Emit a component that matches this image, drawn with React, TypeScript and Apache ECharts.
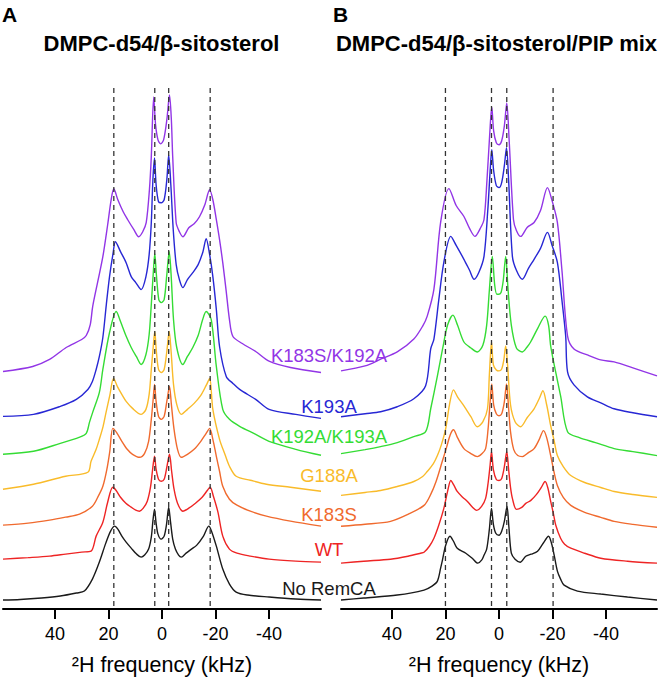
import React, { useEffect, useRef } from "react";
import * as echarts from "echarts";

// ---------- data (x: 2H frequency in kHz, y: stacked intensity, arbitrary units) ----------
const sampleNames = ["No RemCA", "WT", "K183S", "G188A", "K192A/K193A", "K193A", "K183S/K192A"];
const panelTitles = ["DMPC-d54/β-sitosterol", "DMPC-d54/β-sitosterol/PIP mix"];
const panelLetters = ["A", "B"];
const tickValues = [-40, -20, 0, 20, 40];
const axisTitle = "²H frequency (kHz)";
const dashedA = [18, 2.7, -2.5, -18];
const dashedB = [20, 2.8, -2.9, -20.2];

// Panel A spectra
const noRemcaA = [[59.4, 9], [53, 9.5], [45, 11], [38, 13], [32, 16], [29, 18], [26, 30], [23.4, 47], [21, 66], [19.2, 78], [17.7, 83], [16.5, 80], [15, 73], [13.4, 67], [11.5, 61], [9.5, 55], [7.8, 52], [6.5, 54], [5, 60], [4, 72], [3.4, 88], [2.8, 100], [2.2, 86], [1.5, 75], [0.3, 70], [-0.8, 73], [-1.7, 85], [-2.5, 102], [-3.2, 87], [-4, 70], [-5, 60], [-6.2, 54], [-7.2, 52], [-9, 56], [-11, 60], [-13, 64], [-15.5, 73], [-17.5, 83], [-18.5, 78], [-20.3, 63], [-22.7, 40], [-25.2, 25], [-27.7, 17], [-32, 14], [-40, 12], [-50, 10], [-59.4, 9]];
const wtA = [[59.4, 50], [50, 51.5], [42, 53], [36, 55], [30, 57], [26.5, 58], [24.6, 73], [22.1, 87], [20.3, 107], [18.4, 122], [17.2, 119], [15.5, 112], [13.5, 106], [11.5, 102], [9.8, 99], [8.4, 98], [7, 101], [5.5, 108], [4.3, 122], [3.5, 140], [2.8, 153], [2.2, 140], [1.3, 130], [0.3, 128], [-0.8, 130], [-1.8, 142], [-2.8, 155], [-3.6, 138], [-4.5, 120], [-5.8, 106], [-7.8, 98], [-10, 101], [-12.5, 106], [-15, 112], [-17, 119], [-18, 122], [-19.2, 113], [-20.9, 97], [-22.7, 73], [-25.2, 60], [-28, 56], [-33, 53], [-40, 50], [-50, 48], [-59.4, 47]];
const k183sA = [[59.4, 84], [50, 86], [42, 89], [36, 92], [30.8, 95], [26, 103], [24, 112], [22.1, 123], [20.6, 140], [19.5, 158], [18.4, 181], [17, 177], [15, 168], [13, 160], [11, 155], [8.4, 152], [6.5, 156], [5, 168], [4, 190], [3.3, 210], [2.8, 225], [2.2, 208], [1.3, 193], [0.3, 190], [-0.8, 193], [-1.8, 208], [-2.8, 223], [-3.5, 205], [-4.5, 180], [-5.8, 160], [-7.2, 152], [-9.5, 155], [-12, 160], [-14.5, 168], [-16.5, 176], [-17.8, 181], [-19, 170], [-20.3, 153], [-21.5, 138], [-22.7, 123], [-25.2, 110], [-28, 104], [-33, 98], [-39, 93], [-48, 88], [-59.4, 83]];
const g188aA = [[59.4, 120], [48, 125], [36, 133], [27.7, 137], [26.5, 148], [24.6, 160], [23.4, 170], [22, 183], [20.9, 197], [19.5, 214], [18.1, 231], [16.5, 222], [14.8, 214], [13.4, 208], [11, 201], [7.8, 195], [6, 200], [4.8, 215], [4, 240], [3.3, 262], [2.7, 278], [2.1, 258], [1.3, 240], [0.3, 237], [-0.8, 240], [-1.8, 258], [-2.7, 278], [-3.4, 258], [-4.3, 225], [-5.5, 205], [-7.2, 195], [-9.5, 200], [-12, 206], [-14.5, 214], [-16.5, 224], [-17.8, 231], [-19, 200], [-21.5, 170], [-23.5, 155], [-25.2, 143], [-27.7, 133], [-33, 129], [-39, 125], [-48, 122], [-59.4, 118]];
const k192aK193aA = [[59.4, 155], [48, 158], [38, 166], [31, 172], [28.3, 176], [27.1, 187], [25.9, 197], [23.4, 217], [22.1, 240], [19.6, 277], [17.1, 298], [15.5, 288], [13.5, 274], [11.5, 262], [9.6, 253], [7.8, 245], [6, 255], [4.8, 275], [4, 305], [3.3, 335], [2.7, 356], [2.1, 335], [1.2, 310], [0.3, 307], [-0.8, 310], [-1.8, 335], [-2.7, 358], [-3.4, 335], [-4.3, 290], [-5.5, 262], [-7.8, 245], [-9.5, 253], [-11.5, 262], [-13.5, 274], [-15.2, 290], [-16.5, 298], [-18.4, 290], [-20.3, 243], [-22.7, 200], [-25.2, 190], [-29, 183], [-35, 175], [-40, 168], [-50, 160], [-59.4, 154]];
const k193aA = [[59.4, 193], [48, 195], [38, 203], [32, 210], [27.7, 220], [26, 228], [24.6, 240], [23.4, 253], [22.1, 272], [20.8, 305], [19.6, 333], [18.3, 356], [17.4, 368], [15.5, 358], [13.4, 347], [11.5, 333], [9.8, 327], [7.8, 320], [6, 333], [4.8, 355], [4, 387], [3.4, 430], [2.8, 452], [2.2, 425], [1.3, 408], [0.3, 407], [-0.8, 410], [-1.8, 430], [-2.5, 455], [-3.3, 425], [-4.2, 380], [-5.3, 345], [-6.5, 330], [-7.8, 322], [-9.5, 330], [-11.5, 337], [-13.5, 345], [-15.3, 358], [-16.5, 371], [-17.8, 355], [-19, 333], [-20.3, 300], [-21.5, 263], [-24, 233], [-26.5, 226], [-29, 220], [-35, 210], [-40, 200], [-50, 195], [-59.4, 191]];
const k183sK192aA = [[59.4, 238], [48.3, 243], [42, 250], [35.8, 262], [30, 270], [28.3, 274], [26.8, 285], [25.9, 303], [24, 328], [22.1, 353], [20.3, 385], [19, 410], [18, 421], [16.5, 410], [14.5, 398], [12.8, 390], [10.5, 380], [8.7, 373], [7.2, 378], [5.9, 387], [4.7, 420], [4, 453], [3.1, 513], [2.4, 485], [1.5, 470], [0.5, 466], [-0.6, 470], [-1.8, 490], [-2.8, 515], [-3.5, 490], [-4, 453], [-5.3, 387], [-6.5, 378], [-7.8, 373], [-10, 382], [-12, 386], [-14, 393], [-16, 405], [-17.8, 420], [-19, 410], [-20.3, 390], [-21.5, 370], [-22.7, 347], [-24, 318], [-25.2, 290], [-26.5, 273], [-30, 266], [-35, 258], [-40.2, 248], [-48, 242], [-59.4, 237]];

// Panel B spectra
const noRemcaB = [[59, 9], [50.5, 11], [38, 14], [28, 19], [25, 23], [23, 28], [21.8, 41], [21.2, 48], [19.9, 64], [18.3, 73], [17, 68], [15.6, 61], [12.4, 56], [10, 51], [7.9, 46], [6.5, 49], [5.6, 54], [4.6, 60], [3.6, 80], [2.8, 101], [2.1, 85], [1.2, 76], [0, 74], [-1, 78], [-2, 88], [-3, 103], [-3.7, 82], [-4.6, 56], [-6, 50], [-7.9, 47], [-10, 53], [-12, 55], [-14.4, 58], [-16.5, 66], [-18.5, 73], [-19.6, 66], [-20.6, 54], [-21.8, 38], [-23, 30], [-24.3, 24], [-29.3, 18], [-38, 15], [-48, 12], [-59, 9]];
const wtB = [[59, 46], [50.5, 48], [40.5, 50], [34, 53], [29.3, 56], [28, 57], [26, 63], [24.3, 71], [22.5, 84], [20.6, 101], [19.2, 118], [18, 129], [16.8, 124], [15.6, 118], [13.5, 112], [11.8, 108], [9.8, 102], [8.3, 99], [6.5, 103], [5, 111], [4, 128], [3.3, 145], [2.8, 158], [2.1, 140], [1, 130], [0, 129], [-1, 131], [-2, 143], [-2.9, 158], [-3.6, 140], [-4.3, 122], [-5, 111], [-6.5, 100], [-8.5, 102], [-10, 106], [-11.9, 109], [-14, 115], [-15.8, 122], [-17.2, 128], [-18.2, 122], [-19.3, 108], [-20.3, 96], [-21.2, 84], [-23, 71], [-24.5, 65], [-26.8, 61], [-32, 56], [-38, 51], [-48, 48], [-59, 46]];
const k183sB = [[59, 83], [50, 85], [40.5, 88], [34, 95], [28, 104], [25.5, 115], [23.5, 128], [21.2, 148], [19.5, 163], [18.2, 175], [17, 180], [15.5, 172], [13.1, 161], [10.5, 156], [8.1, 153], [6.3, 156], [5, 161], [4.1, 180], [3.4, 205], [2.7, 226], [2, 205], [1, 196], [0, 194], [-1, 196], [-2, 208], [-2.8, 226], [-3.5, 205], [-4.3, 178], [-5.5, 160], [-7, 154], [-8.7, 153], [-11, 157], [-13.1, 161], [-15, 170], [-16.6, 179], [-17.8, 172], [-19.3, 154], [-20.5, 138], [-21.8, 124], [-24, 112], [-26.8, 104], [-32, 97], [-38, 92], [-43, 88], [-50, 85], [-59, 82]];
const g188aB = [[59, 114], [50, 117], [44.2, 119], [38, 123], [31.8, 128], [28.5, 133], [26.8, 138], [24.5, 146], [23, 154], [21.5, 165], [19.9, 181], [18.5, 205], [17, 220], [15.5, 213], [13.1, 204], [10.5, 193], [8.1, 183], [6, 188], [4.3, 201], [3.6, 235], [2.8, 268], [2.1, 245], [1, 240], [0, 239], [-1, 241], [-1.8, 250], [-2.5, 264], [-3.2, 245], [-4.3, 205], [-6, 188], [-8.1, 183], [-10.5, 192], [-13.1, 201], [-15, 211], [-16.4, 219], [-17.8, 205], [-19.3, 184], [-20.5, 170], [-21.8, 154], [-24, 143], [-26.8, 134], [-32, 127], [-38, 122], [-43, 118], [-50, 115], [-59, 112]];
const k192aK193aB = [[59, 156], [50, 160], [44.2, 163], [38, 167], [31.8, 173], [27.4, 178], [25.5, 201], [23, 234], [21, 262], [19.2, 285], [17.2, 295], [15.5, 285], [13.1, 268], [10.5, 262], [8.1, 258], [6, 265], [4.6, 285], [3.6, 320], [2.5, 354], [1.6, 325], [0.8, 316], [0, 316], [-0.8, 318], [-1.6, 330], [-2.5, 354], [-3.4, 320], [-4.6, 285], [-6.5, 262], [-8.7, 258], [-10.5, 263], [-11.8, 268], [-14.5, 282], [-17.2, 294], [-18.5, 285], [-19.3, 264], [-21, 240], [-23, 214], [-25.6, 178], [-30, 172], [-36, 167], [-43, 161], [-50, 158], [-59, 154]];
const k193aB = [[59, 193], [50, 196], [44.2, 198], [38, 203], [31.8, 211], [27.4, 224], [25.5, 261], [24.3, 271], [22.5, 310], [20.6, 348], [18, 374], [16, 365], [13.1, 351], [11, 340], [9.3, 331], [7.5, 338], [5.6, 354], [4.2, 400], [3.3, 440], [2.7, 461], [2, 440], [1, 425], [0, 423], [-1, 428], [-2, 445], [-2.8, 463], [-3.6, 430], [-5, 354], [-6.5, 340], [-8.7, 331], [-11, 342], [-13.1, 351], [-15.5, 362], [-18.1, 378], [-19.8, 365], [-21.8, 348], [-23.5, 310], [-24.9, 274], [-25.6, 238], [-28, 225], [-33, 213], [-38, 207], [-43, 201], [-50, 197], [-59, 193]];
const k183sK192aB = [[59, 239], [50, 244], [44, 251], [38, 258], [31.8, 271], [28.5, 284], [26.8, 294], [24.3, 321], [21.8, 388], [18.7, 422], [16, 405], [13.1, 394], [11, 382], [9, 374], [7, 382], [5.6, 391], [4.5, 430], [3.5, 475], [2.7, 504], [2, 480], [1, 468], [0, 466], [-1, 470], [-2, 485], [-2.9, 508], [-3.8, 470], [-5.4, 391], [-6.5, 380], [-8.1, 374], [-10.5, 383], [-13.1, 388], [-15.5, 400], [-18.1, 423], [-19.8, 410], [-21.8, 388], [-23.5, 340], [-25.6, 274], [-28, 261], [-33, 255], [-38, 250], [-43, 248], [-50, 242], [-59, 234]];

const spectraA = [noRemcaA, wtA, k183sA, g188aA, k192aK193aA, k193aA, k183sK192aA];
const spectraB = [noRemcaB, wtB, k183sB, g188aB, k192aK193aB, k193aB, k183sK192aB];

// ---------- styles ----------
const colors = ["#1a1a1a", "#ee2424", "#f06a2e", "#f9bb2a", "#34dc34", "#2727d4", "#9235e6"];
const FONT = "'Liberation Sans', Arial, Helvetica, sans-serif";
const labelY = [588, 549, 514, 475, 436, 406, 355];

function buildOption() {
  const series: any[] = [];
  const addPanel = (spectra: number[][][], idx: number, dashed: number[], top: number) => {
    spectra.forEach((d, i) => {
      series.push({
        type: "line",
        xAxisIndex: idx,
        yAxisIndex: idx,
        data: d,
        symbol: "none",
        showSymbol: false,
        silent: true,
        smooth: 0.3,
        lineStyle: { color: colors[i], width: 1.4 },
        z: 2,
      });
    });
    dashed.forEach((x) => {
      series.push({
        type: "line",
        xAxisIndex: idx,
        yAxisIndex: idx,
        data: [[x, 3], [x, top]],
        symbol: "none",
        showSymbol: false,
        silent: true,
        lineStyle: { color: "#333", width: 1.3, type: [5, 4] },
        z: 3,
      });
    });
  };
  addPanel(spectraA, 0, dashedA, 523);
  addPanel(spectraB, 1, dashedB, 526);

  const xAxisBase = (min: number, max: number, gi: number) => ({
    gridIndex: gi,
    type: "value",
    inverse: true,
    min,
    max,
    splitLine: { show: false },
    axisLine: { show: true, onZero: false, lineStyle: { color: "#000", width: 2 } },
    axisTick: { show: true, customValues: tickValues, length: 10, lineStyle: { color: "#000", width: 2 } },
    axisLabel: { show: true, customValues: tickValues, fontSize: 18, color: "#000", margin: 16, fontFamily: FONT },
    name: axisTitle,
    nameLocation: "middle",
    nameGap: 45,
    nameTextStyle: { fontSize: 21.5, color: "#000", fontFamily: FONT },
  });

  const graphics: any[] = [];
  const txt = (text: string, x: number, y: number, size: number, color: string, bold: boolean, align = "center") => ({
    type: "text",
    x,
    y,
    silent: true,
    style: {
      text,
      fill: color,
      fontSize: size,
      fontWeight: bold ? "bold" : "normal",
      fontFamily: FONT,
      textAlign: align,
      textVerticalAlign: "middle",
      align,
      verticalAlign: "middle",
    },
  });
  graphics.push(txt(panelLetters[0], 2, 14, 21, "#000", true, "left"));
  graphics.push(txt(panelLetters[1], 333, 14, 21, "#000", true, "left"));
  graphics.push(txt(panelTitles[0], 161.5, 43, 22, "#000", true));
  graphics.push(txt(panelTitles[1], 496.5, 43, 22, "#000", true));
  sampleNames.forEach((n, i) => graphics.push(txt(n, 329, labelY[i], 18.5, colors[i], false)));

  return {
    animation: false,
    backgroundColor: "#fff",
    grid: [
      { left: 3, top: 80, width: 318, height: 530 },
      { left: 341, top: 80, width: 316, height: 531 },
    ],
    xAxis: [xAxisBase(-59.4, 59.4, 0), xAxisBase(-59, 59, 1)],
    yAxis: [
      { gridIndex: 0, type: "value", min: 0, max: 530, show: false },
      { gridIndex: 1, type: "value", min: 0, max: 531, show: false },
    ],
    series,
    graphic: graphics,
  };
}

export default function App() {
  const ref = useRef<HTMLDivElement>(null);
  useEffect(() => {
    if (!ref.current) return;
    const chart = echarts.init(ref.current, null, { renderer: "svg" });
    chart.setOption(buildOption() as any);
    return () => chart.dispose();
  }, []);
  return (
    <div
      ref={ref}
      style={{ position: "fixed", left: 0, top: 0, width: 661, height: 681, background: "#fff" }}
    />
  );
}
